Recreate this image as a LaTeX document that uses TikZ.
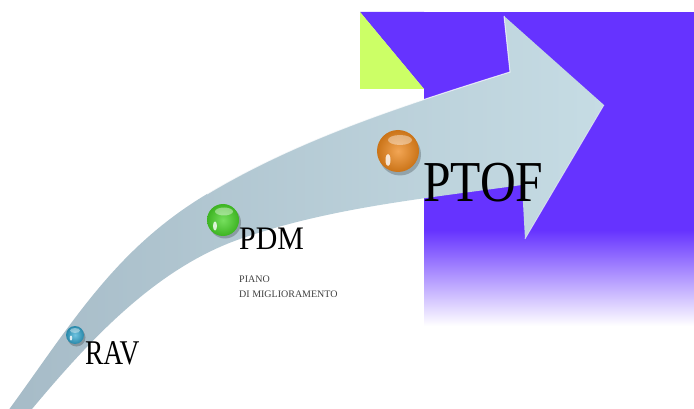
\documentclass[tikz,border=0pt]{standalone}
\usepackage{fontspec}
\setmainfont{Liberation Serif}
\begin{document}
\begin{tikzpicture}[x=1pt,y=-1pt,
  lbl/.style={anchor=base west, inner sep=0pt, text=black},
  small/.style={anchor=base west, inner sep=0pt, text=black!75, font=\fontsize{10}{12}\selectfont},
  shadowc/.style={fill=black, opacity=0.22},
  gloss/.style={fill=white, opacity=0.4},
  glint/.style={fill=white, opacity=0.8}]
\definecolor{violet}{RGB}{102,51,255}
\definecolor{lime}{RGB}{204,255,102}
\definecolor{tailc}{RGB}{166,187,199}
\definecolor{headc}{RGB}{198,220,228}
\definecolor{orangeb}{RGB}{238,136,28}
\definecolor{greenb}{RGB}{72,212,40}
\definecolor{blueb}{RGB}{50,170,212}
\useasboundingbox (0,0) rectangle (694,409);
\clip (0,0) rectangle (694,409);
% purple background block
\fill[violet] (424,12) rectangle (694,231);
\shade[top color=violet, bottom color=white] (424,230) rectangle (694,326);
\fill[violet] (360,12) -- (424,12) -- (424,89) -- cycle;
\fill[lime] (360,12) -- (424,89) -- (360,89) -- cycle;
% curved arrow
\coordinate (t0) at (5,415);
\coordinate (t1) at (207,194);
\coordinate (t2) at (510,72);
\coordinate (hb) at (504,16);
\coordinate (tip) at (604,105);
\coordinate (hl) at (525,239);
\coordinate (b0) at (522,185);
\coordinate (b1) at (240,239);
\coordinate (b2) at (27,415);
\shade[left color=tailc, right color=headc]
  (t0) .. controls (70.2,326.4) and (112.7,250.5) .. (t1)
       .. controls (300.4,138) and (405.9,104.5) .. (t2)
  -- (hb) -- (tip) -- (hl) -- (b0)
       .. controls (427,198.3) and (330.6,207.3) .. (b1)
       .. controls (153.2,269.4) and (85.9,344.2) .. (b2)
  -- cycle;
\draw[white, opacity=0.75, line width=1pt]
  (t1) .. controls (300.4,138) and (405.9,104.5) .. (t2) -- (hb);
\draw[white, opacity=0.5, line width=0.8pt] (tip) -- (hl);
% beads
\fill[shadowc] (76.5,337.5) circle (9);
\shade[inner color=blueb!70!white, outer color=blueb!80!black] (75,335) circle (9);
\fill[gloss] (75,330.5) ellipse (5 and 2.5);
\fill[glint] (71,338) ellipse (1.3 and 2.5);
\fill[shadowc] (225,222.5) circle (16);
\shade[inner color=greenb!75!white, outer color=greenb!85!black] (223,220) circle (16);
\fill[gloss] (224,211.5) ellipse (9 and 4);
\fill[glint] (215,226) ellipse (2 and 4.5);
\fill[shadowc] (400,154.5) circle (21);
\shade[inner color=orangeb!75!white, outer color=orangeb!85!black] (398,151) circle (21);
\fill[gloss] (400,140) ellipse (12 and 5);
\fill[glint] (388,160) ellipse (2.5 and 6);
% labels
\node[lbl, xscale=0.79, font=\fontsize{34.7}{40}\selectfont] (rav) at (85,364) {RAV};
\node[lbl, xscale=0.91, font=\fontsize{32.8}{38}\selectfont] (pdm) at (239,250) {PDM};
\node[lbl, xscale=0.855, font=\fontsize{57.9}{64}\selectfont] (ptof) at (423,202) {PTOF};
\node[small] (piano) at (239,282) {PIANO};
\node[small] (dimig) at (239,297.5) {DI MIGLIORAMENTO};
\end{tikzpicture}
\end{document}
